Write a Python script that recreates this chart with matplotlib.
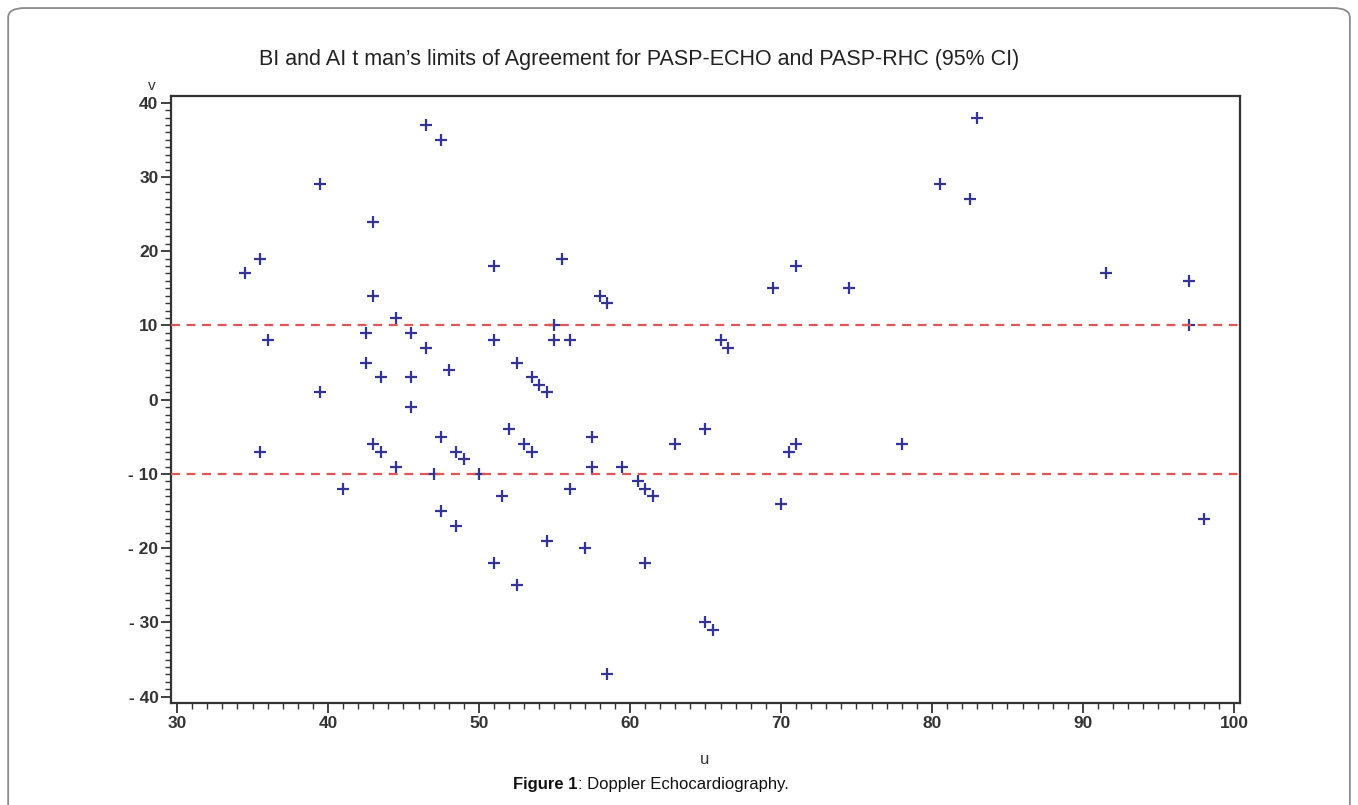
import matplotlib
matplotlib.use("Agg")
import matplotlib.pyplot as plt
from matplotlib.ticker import MultipleLocator, FuncFormatter
from matplotlib.patches import FancyBboxPatch

plt.rcParams['font.family'] = ['Liberation Sans', 'DejaVu Sans']

# mean of the two methods (u) and their difference (v), one entry per patient
u = [34.5, 35.5, 36, 35.5, 39.5, 39.5, 41, 42.5, 42.5, 43, 43, 43.5, 43, 43.5,
     44.5, 44.5, 45.5, 45.5, 45.5, 46.5, 46.5, 47.5, 47, 47.5, 47.5, 48, 48.5,
     49, 48.5, 50, 51, 51, 51.5, 51, 52, 52.5, 52.5, 53, 53.5, 53.5, 54, 54.5,
     54.5, 55, 55, 55.5, 56, 56, 57, 57.5, 57.5, 58, 58.5, 58.5, 59.5, 60.5,
     61, 61.5, 61, 63, 65, 65, 65.5, 66, 66.5, 69.5, 70, 70.5, 71, 71, 74.5,
     78, 80.5, 82.5, 83, 91.5, 97, 97, 98]
v = [17, 19, 8, -7, 29, 1, -12, 9, 5, 24, 14, 3, -6, -7, 11, -9, 9, 3, -1, 37,
     7, 35, -10, -5, -15, 4, -7, -8, -17, -10, 18, 8, -13, -22, -4, 5, -25, -6,
     3, -7, 2, 1, -19, 10, 8, 19, 8, -12, -20, -5, -9, 14, 13, -37, -9, -11,
     -12, -13, -22, -6, -4, -30, -31, 8, 7, 15, -14, -7, -6, 18, 15, -6, 29,
     27, 38, 17, 16, 10, -16]

# limits of agreement
limits = [10, -10]

title = "BI and AI t man\u2019s limits of Agreement for PASP-ECHO and PASP-RHC (95% CI)"

fig = plt.figure(figsize=(13.58, 8.05), dpi=100)
ax = fig.add_axes([0.1259, 0.1267, 0.7872, 0.754])

ax.plot(u, v, linestyle='none', marker='+', markersize=9, markeredgewidth=1.6,
        color='#343494', zorder=2)
for lim in limits:
    ax.axhline(lim, color='#e05555', linewidth=1.6, linestyle=(0, (4, 3)), zorder=3)

ax.set_xlim(29.6, 100.4)
ax.set_ylim(-40.85, 40.9)
ax.xaxis.set_major_locator(MultipleLocator(10))
ax.xaxis.set_minor_locator(MultipleLocator(1))
ax.yaxis.set_major_locator(MultipleLocator(10))
ax.yaxis.set_minor_locator(MultipleLocator(1))
ax.yaxis.set_major_formatter(FuncFormatter(
    lambda x, p: "- %d" % abs(x) if x < 0 else "%d" % x))

ax.tick_params(which='major', length=7, width=1.3, color='#333333',
               labelsize=12.5, labelcolor='#333333', pad=2)
ax.tick_params(which='minor', length=4, width=1.0, color='#333333')
for lab in ax.get_xticklabels() + ax.get_yticklabels():
    lab.set_fontweight('bold')
for s in ax.spines.values():
    s.set_linewidth(1.6)
    s.set_color('#333333')

fig.text(0.471, 0.926, title, ha='center', va='center', fontsize=15.5, color='#222222')
fig.text(0.112, 0.893, "v", ha='center', va='center', fontsize=11, color='#333333')
fig.text(0.519, 0.056, "u", ha='center', va='center', fontsize=12, color='#333333')
fig.text(0.4255, 0.026, "Figure 1", ha='right', va='center', fontsize=12,
         fontweight='bold', color='#111111')
fig.text(0.4255, 0.026, ": Doppler Echocardiography.", ha='left', va='center',
         fontsize=12, color='#111111')

frame = FancyBboxPatch((0.006, -0.05), 0.988, 1.04, transform=fig.transFigure,
                       boxstyle="round,pad=0,rounding_size=0.012",
                       facecolor='none', edgecolor='#8a8a8a', linewidth=1.3,
                       clip_on=False)
fig.patches.append(frame)

fig.savefig("out.png", dpi=100)
